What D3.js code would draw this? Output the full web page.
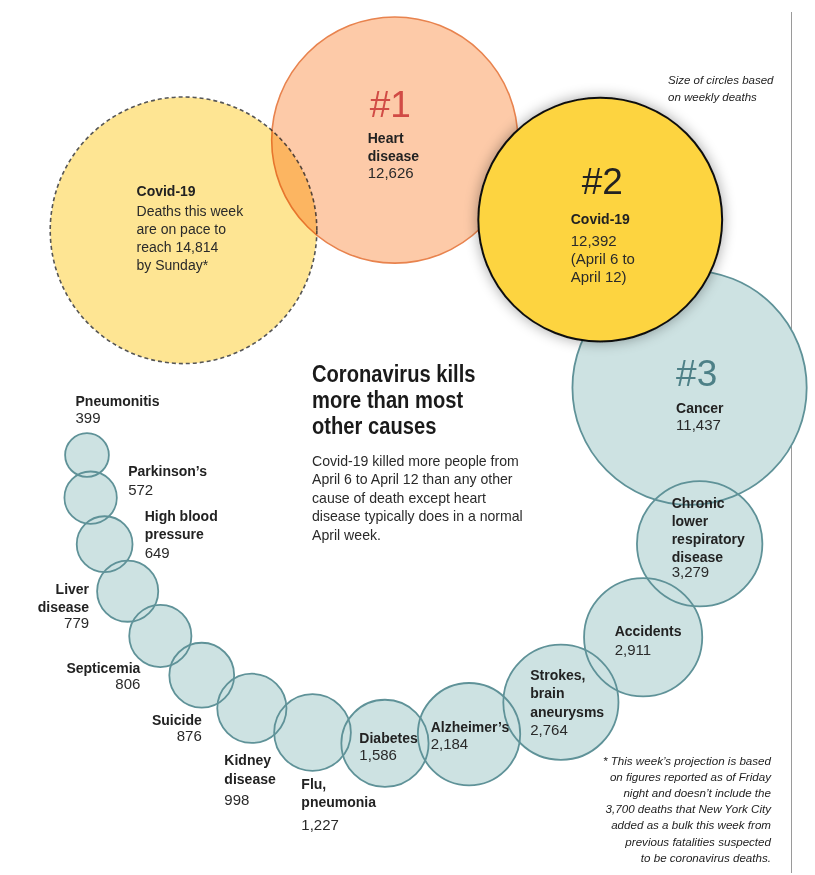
<!DOCTYPE html>
<html><head><meta charset="utf-8">
<script src="https://cdn.jsdelivr.net/npm/d3@7"></script>
<style>
html,body{margin:0;padding:0;background:#fff;}
svg{display:block;font-family:'Liberation Sans',Arial,sans-serif;}
</style></head><body>
<svg id="chart" width="815" height="875"></svg>
<script>
// ---------------- DATA ----------------
const causes = ["Covid-19 (projected)", "Heart disease", "Covid-19", "Cancer",
  "Chronic lower respiratory disease", "Accidents", "Strokes, brain aneurysms",
  "Alzheimer's", "Diabetes", "Flu, pneumonia", "Kidney disease", "Suicide",
  "Septicemia", "Liver disease", "High blood pressure", "Parkinson's", "Pneumonitis"];
const weeklyDeaths = [14814, 12626, 12392, 11437, 3279, 2911, 2764, 2184, 1586,
  1227, 998, 876, 806, 779, 649, 572, 399];
const ranks = ["", "#1", "#2", "#3", "", "", "", "", "", "", "", "", "", "", "", "", ""];
const labelLines = [["Covid-19"], ["Heart", "disease"], ["Covid-19"], ["Cancer"],
  ["Chronic", "lower", "respiratory", "disease"], ["Accidents"], ["Strokes,", "brain", "aneurysms"],
  ["Alzheimer\u2019s"], ["Diabetes"], ["Flu,", "pneumonia"], ["Kidney", "disease"], ["Suicide"],
  ["Septicemia"], ["Liver", "disease"], ["High blood", "pressure"], ["Parkinson\u2019s"], ["Pneumonitis"]];
const kinds = ["projection", "heart", "covid", "other", "other", "other", "other", "other", "other",
  "other", "other", "other", "other", "other", "other", "other", "other"];
const covidWeek = ["(April 6 to", "April 12)"];
const titleLines = ["Coronavirus kills", "more than most", "other causes"];
const introLines = ["Covid-19 killed more people from", "April 6 to April 12 than any other",
  "cause of death except heart", "disease typically does in a normal", "April week."];
const sizeNote = ["Size of circles based", "on weekly deaths"];
const footnoteLines = ["* This week\u2019s projection is based", "on figures reported as of Friday",
  "night and doesn\u2019t include the", "3,700 deaths that New York City",
  "added as a bulk this week from", "previous fatalities suspected", "to be coronavirus deaths."];

// ---------------- LAYOUT / STYLE ----------------
const fmt = d3.format(",");
const regularLines = weeklyDeaths.map((v, i) =>
  kinds[i] === "projection" ? ["Deaths this week", "are on pace to", "reach " + fmt(v), "by Sunday*"]
  : kinds[i] === "covid" ? [fmt(v)].concat(covidWeek) : [fmt(v)]);

// label placement relative to circle centre
const placement = [
  {a: "start", dx: -47, by: -34, ry: -14},
  {a: "start", dx: -27, by: 3, ry: 38, rk: [-25, -23]},
  {a: "start", dx: -29.5, by: 4.5, ry: 26, rk: [-18.5, -26]},
  {a: "start", dx: -13.5, by: 25, ry: 42, rk: [-13.5, -2]},
  {a: "start", dx: -28, by: -36, ry: 33.6},
  {a: "start", dx: -28.5, by: -1.6, ry: 17.5},
  {a: "start", dx: -30.7, by: -22.5, bs: 18.5, ry: 32.6},
  {a: "start", dx: -38.4, by: -2.1, ry: 15.3},
  {a: "start", dx: -25.6, by: 0, ry: 16.3},
  {a: "start", dx: -11.2, by: 57, bs: 17.5, ry: 98},
  {a: "start", dx: -27.5, by: 57, bs: 18.5, ry: 96.6},
  {a: "end", dx: 0, by: 50, ry: 66},
  {a: "end", dx: -20, by: 37.5, ry: 53.5},
  {a: "end", dx: -38.6, by: 3, ry: 37},
  {a: "start", dx: 40, by: -23, bs: 17.5, ry: 13.7},
  {a: "start", dx: 37.5, by: -21.3, ry: -3},
  {a: "start", dx: -11.5, by: -49.5, ry: -32}
];

const svg = d3.select("#chart");
const defs = svg.append("defs");
const f = defs.append("filter").attr("id", "shadow")
  .attr("x", "-30%").attr("y", "-30%").attr("width", "160%").attr("height", "160%");
f.append("feGaussianBlur").attr("in", "SourceAlpha").attr("stdDeviation", 7);
f.append("feComponentTransfer").append("feFuncA").attr("type", "linear").attr("slope", 0.35);
const fm = f.append("feMerge");
fm.append("feMergeNode");
fm.append("feMergeNode").attr("in", "SourceGraphic");

// size scale: circle area proportional to weekly deaths
const rScale = d3.scaleSqrt().domain([0, d3.max(weeklyDeaths)]).range([0, 133.3]);

// spiral guide along which the circles are chained, each touching the previous one
const C = {x: 401, y: 444};
const guideR = d3.scaleLinear()
  .domain([-140, -90, -48, -11, 18, 38, 77, 95, 130, 170, 180])
  .range([305, 304, 300, 294, 315, 310, 298, 300, 305, 315, 314]).clamp(true);
const onGuide = a => { const t = a * Math.PI / 180, R = guideR(a); return [C.x + R * Math.cos(t), C.y + R * Math.sin(t)]; };
const overlapShare = 0.2;      // neighbours overlap by 20% of the larger radius
const featuredTuck = 0.4;      // the featured Covid-19 circle sits deeper over its successor
const startAngle = -135.5;

const nodes = weeklyDeaths.map((v, i) => ({i, v, r: rScale(v), kind: kinds[i]}));
nodes.forEach((n, i) => {
  let ang = startAngle;
  if (i > 0) {
    const p = nodes[i - 1];
    const share = p.kind === "covid" ? featuredTuck : overlapShare;
    const d = p.r + n.r - share * Math.max(p.r, n.r);
    let lo = p.angle, hi = p.angle + 90;
    for (let k = 0; k < 60; k++) {
      const mid = (lo + hi) / 2, q = onGuide(mid);
      if (Math.hypot(q[0] - p.x, q[1] - p.y) < d) lo = mid; else hi = mid;
    }
    ang = (lo + hi) / 2;
  }
  n.angle = ang;
  [n.x, n.y] = onGuide(ang);
});

// vertical rule
svg.append("line").attr("x1", 791.5).attr("x2", 791.5).attr("y1", 12).attr("y2", 873)
  .attr("stroke", "#9a9a9a").attr("stroke-width", 1);

const proj = nodes.filter(d => d.kind === "projection");
const heart = nodes.filter(d => d.kind === "heart");
const others = nodes.filter(d => d.kind === "other");
const covid = nodes.filter(d => d.kind === "covid");

svg.append("g").selectAll("circle").data(proj).join("circle")
  .attr("cx", d => d.x).attr("cy", d => d.y).attr("r", d => d.r)
  .attr("fill", "#fee593").attr("stroke", "#555").attr("stroke-width", 1.6).attr("stroke-dasharray", "4,3");

svg.append("g").selectAll("circle").data(heart).join("circle")
  .attr("cx", d => d.x).attr("cy", d => d.y).attr("r", d => d.r)
  .attr("fill", "#fdcaa8").attr("stroke", "#e8834e").attr("stroke-width", 1.6)
  .style("mix-blend-mode", "multiply");

svg.append("g").selectAll("circle").data(others).join("circle")
  .attr("cx", d => d.x).attr("cy", d => d.y).attr("r", d => d.r).attr("fill", "#cde2e2");
svg.append("g").selectAll("circle").data(others).join("circle")
  .attr("cx", d => d.x).attr("cy", d => d.y).attr("r", d => d.r)
  .attr("fill", "none").attr("stroke", "#5f9298").attr("stroke-width", 1.8);

svg.append("g").selectAll("circle").data(covid).join("circle")
  .attr("cx", d => d.x).attr("cy", d => d.y).attr("r", d => d.r)
  .attr("fill", "#fdd43f").attr("stroke", "#111").attr("stroke-width", 2)
  .attr("filter", "url(#shadow)");

// labels
const rankColor = {"#1": "#d14b45", "#2": "#222", "#3": "#4d8087"};
const lab = svg.append("g").selectAll("g").data(nodes).join("g")
  .attr("transform", d => `translate(${d.x},${d.y})`);
lab.each(function(d) {
  const g = d3.select(this), p = placement[d.i];
  if (ranks[d.i]) {
    g.append("text").attr("x", p.rk[0]).attr("y", p.rk[1]).text(ranks[d.i])
      .attr("font-size", 37).attr("fill", rankColor[ranks[d.i]]);
  }
  const bs = p.bs || 18;
  labelLines[d.i].forEach((t, k) => g.append("text").attr("x", p.dx).attr("y", p.by + k * bs)
    .attr("text-anchor", p.a).attr("font-size", 14).attr("font-weight", "bold").attr("fill", "#222").text(t));
  regularLines[d.i].forEach((t, k) => g.append("text").attr("x", p.dx).attr("y", p.ry + k * 18)
    .attr("text-anchor", p.a).attr("font-size", d.kind === "projection" ? 14 : 15).attr("fill", "#2a2a2a").text(t));
});

// title (condensed) + intro
svg.append("g").attr("transform", "translate(312,0) scale(0.84,1)")
  .selectAll("text").data(titleLines).join("text")
  .attr("x", 0).attr("y", (d, i) => 382 + i * 26).text(d => d)
  .attr("font-size", 24).attr("font-weight", "bold").attr("fill", "#1a1a1a");
svg.append("g").selectAll("text").data(introLines).join("text")
  .attr("x", 312).attr("y", (d, i) => 466 + i * 18.4).text(d => d)
  .attr("font-size", 14.1).attr("fill", "#2a2a2a");

// notes
svg.append("g").selectAll("text").data(sizeNote).join("text")
  .attr("x", 668).attr("y", (d, i) => 84 + i * 17).text(d => d)
  .attr("font-size", 11.5).attr("font-style", "italic").attr("fill", "#222");
svg.append("g").selectAll("text").data(footnoteLines).join("text")
  .attr("x", 771).attr("y", (d, i) => 765 + i * 16.1).attr("text-anchor", "end").text(d => d)
  .attr("font-size", 11.6).attr("font-style", "italic").attr("fill", "#222");
</script>
</body></html>
